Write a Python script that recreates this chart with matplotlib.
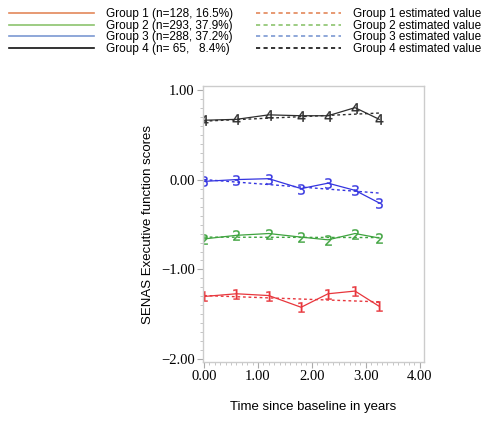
import matplotlib
matplotlib.use("Agg")
import matplotlib.pyplot as plt
from matplotlib.lines import Line2D
from matplotlib.ticker import MultipleLocator

# visit times (years since baseline)
years = [0.0, 0.6, 1.2, 1.8, 2.3, 2.8, 3.25]

# observed mean scores per group
group1 = [-1.30, -1.27, -1.29, -1.42, -1.27, -1.24, -1.41]
group2 = [-0.66, -0.62, -0.60, -0.64, -0.67, -0.60, -0.65]
group3 = [-0.02, 0.00, 0.01, -0.10, -0.04, -0.12, -0.26]
group4 = [0.66, 0.67, 0.72, 0.71, 0.71, 0.80, 0.67]

# estimated (linear) trajectories, start and end
est_x = [0.0, 3.25]
est1 = [-1.29, -1.36]
est2 = [-0.64, -0.645]
est3 = [0.00, -0.15]
est4 = [0.65, 0.74]

labels = ["Group 1 (n=128, 16.5%)", "Group 2 (n=293, 37.9%)",
          "Group 3 (n=288, 37.2%)", "Group 4 (n= 65,   8.4%)"]
est_labels = ["Group 1 estimated value", "Group 2 estimated value",
              "Group 3 estimated value", "Group 4 estimated value"]

plot_colors = ["#e8363c", "#3ea33e", "#3434e0", "#2e2e2e"]
legend_colors = ["#e3875a", "#8cc46e", "#7b98d2", "#111111"]

fig = plt.figure(figsize=(4.85, 4.24), dpi=100)
ax = fig.add_axes([0.4186, 0.146, 0.4556, 0.651])

series = [group1, group2, group3, group4]
ests = [est1, est2, est3, est4]
for i, (obs, est) in enumerate(zip(series, ests)):
    c = plot_colors[i]
    ax.plot(years, obs, color=c, lw=0.9, marker="$%d$" % (i + 1),
            markersize=7.5, markeredgewidth=0.2)
    ax.plot(est_x, est, color=c, lw=1.0, ls=(0, (2, 2)))

ax.set_xlim(-0.02, 4.08)
ax.set_ylim(-2.03, 1.04)
ax.set_xticks([0, 1, 2, 3, 4])
ax.set_yticks([-2, -1, 0, 1])
ax.xaxis.set_minor_locator(MultipleLocator(0.1))
ax.yaxis.set_minor_locator(MultipleLocator(0.1))
ax.set_xticklabels(["0.00", "1.00", "2.00", "3.00", "4.00"],
                   family="Liberation Serif", fontsize=10.5)
ax.set_yticklabels(["\u22122.00", "\u22121.00", "0.00", "1.00"],
                   family="Liberation Serif", fontsize=10.5)
ax.tick_params(which="major", length=4, color="#aaaaaa", pad=2)
ax.tick_params(which="minor", length=2, color="#bbbbbb")
for s in ax.spines.values():
    s.set_color("#cccccc")
    s.set_linewidth(1.0)

ax.set_xlabel("Time since baseline in years", family="Liberation Sans",
              fontsize=9.5, labelpad=13)
ax.set_ylabel("SENAS Executive function scores", family="Liberation Sans",
              fontsize=9.5, labelpad=5)

handles = []
for i in range(4):
    handles.append(Line2D([], [], color=legend_colors[i], lw=1.2))
for i in range(4):
    handles.append(Line2D([], [], color=legend_colors[i], lw=1.2,
                          ls=(0, (2.5, 2))))
fig.legend(handles, labels + est_labels, loc="upper left",
           bbox_to_anchor=(0.009, 0.992), ncol=2, frameon=False,
           prop={"family": "Liberation Sans", "size": 8.5},
           handlelength=7.2, handletextpad=1.0, columnspacing=1.95,
           labelspacing=-0.03, borderaxespad=0.0)

fig.savefig("out.png", dpi=100)
